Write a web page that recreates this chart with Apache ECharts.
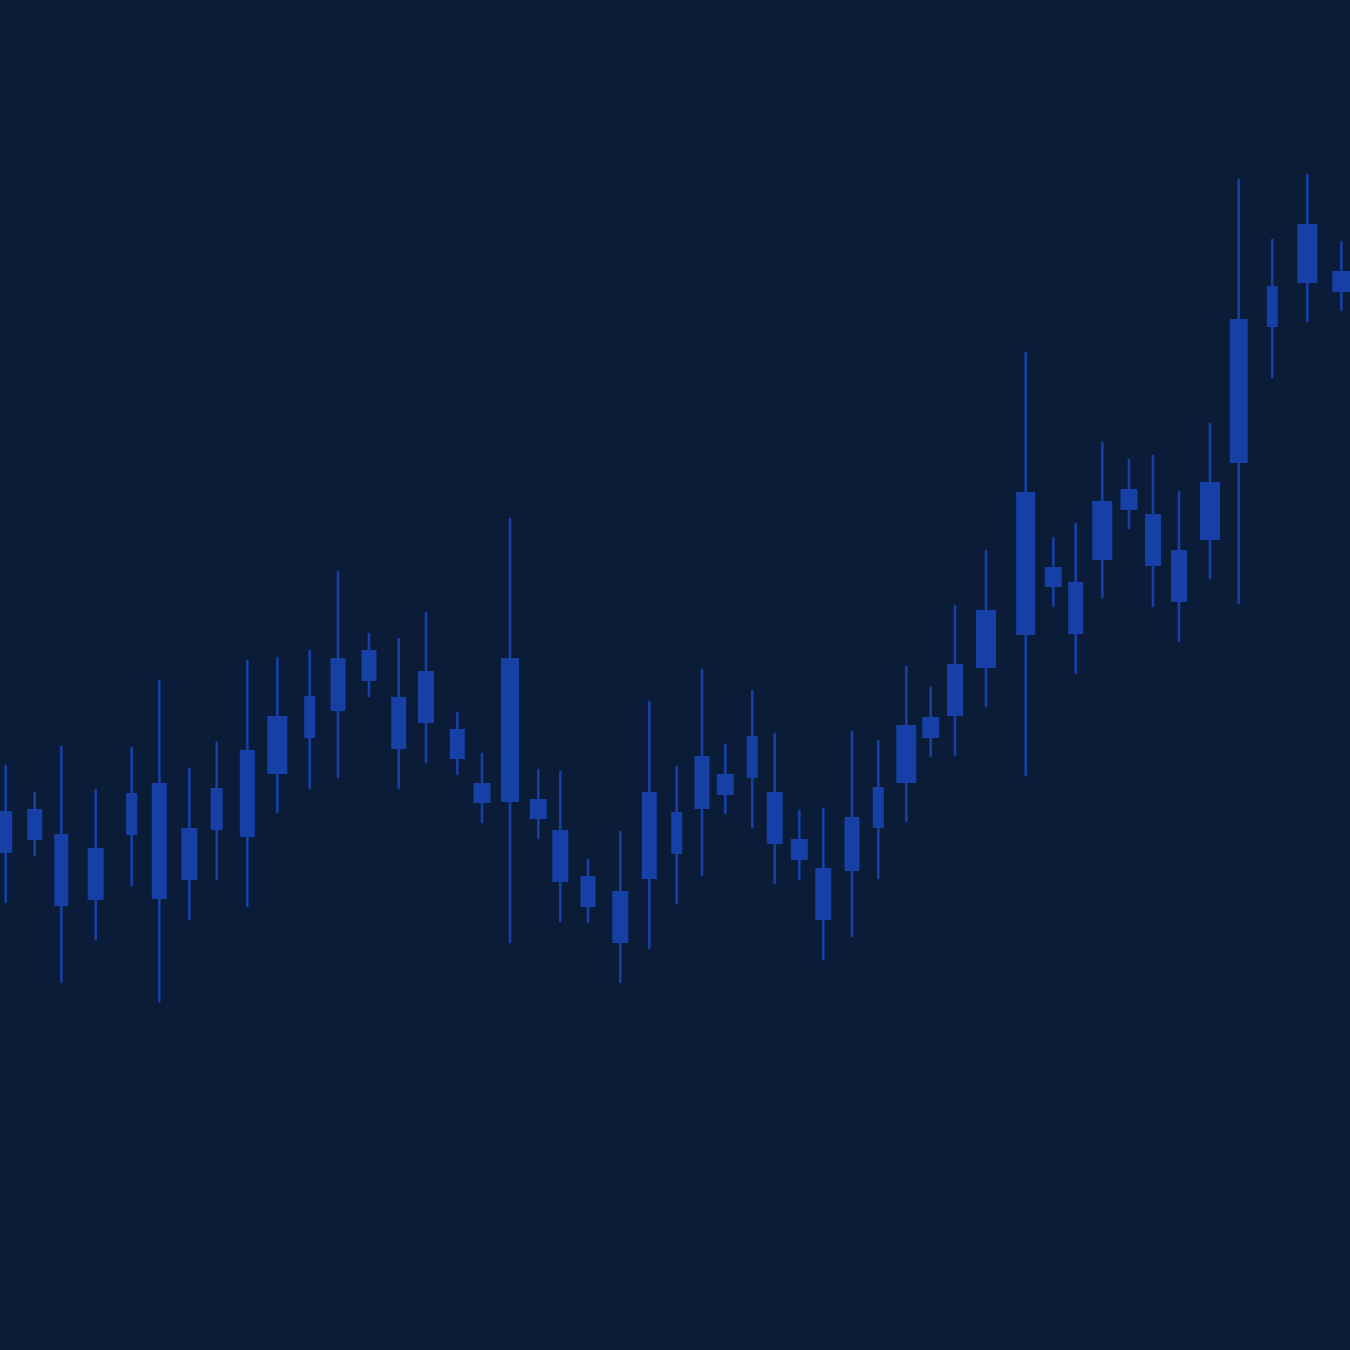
<!DOCTYPE html>
<html>
<head>
<meta charset="utf-8">
<script src="https://cdn.jsdelivr.net/npm/echarts@6/dist/echarts.min.js"></script>
<style>
  html, body { margin: 0; padding: 0; background: #0a1c38; }
  #chart { width: 1350px; height: 1350px; }
</style>
</head>
<body>
<div id="chart"></div>
<script>
// Session positions on the time axis (irregular spacing)
const times = [5.7, 34.7, 61.3, 95.7, 131.7, 159.3, 189.3, 216.7, 247.3, 277.3,
  309.7, 338, 369, 398.7, 426, 457.3, 482, 510, 538.3, 560.3,
  588, 620.3, 649.3, 676.7, 702, 725.3, 752.3, 774.7, 799.3, 823.3,
  852, 878.3, 906.3, 930.7, 955, 986, 1025.7, 1053.3, 1075.7, 1102.3,
  1129, 1153, 1179, 1210, 1238.7, 1272.3, 1307.3, 1341.3];

const opens  = [49.7, 54.1, 51.6, 50.2, 51.5, 45.1, 52.2, 52.0, 51.3, 57.6,
  61.2, 63.9, 66.9, 65.3, 62.7, 62.1, 56.7, 54.8, 55.1, 52.0,
  47.4, 45.9, 47.1, 53.8, 54.1, 57.6, 57.2, 55.8, 51.1, 48.2,
  47.9, 52.2, 56.7, 61.2, 63.4, 68.2, 71.5, 78.3, 76.8, 79.0,
  84.0, 83.6, 80.0, 81.0, 88.7, 102.3, 106.7, 107.9];
const closes = [53.9, 51.0, 44.4, 45.0, 55.7, 56.7, 47.0, 56.2, 60.0, 63.4,
  65.4, 69.2, 70.0, 60.1, 67.9, 59.1, 54.7, 69.2, 53.1, 46.8,
  44.3, 40.7, 55.8, 49.6, 59.4, 55.5, 61.4, 50.6, 49.0, 43.0,
  53.3, 56.3, 62.5, 63.3, 68.6, 74.0, 85.8, 76.3, 71.6, 84.9,
  86.1, 78.4, 74.8, 86.8, 103.1, 106.4, 112.6, 105.8];
const lows   = [44.8, 49.5, 36.8, 41.1, 46.5, 34.9, 43.1, 47.1, 44.4, 53.8,
  56.2, 57.3, 65.4, 56.2, 58.8, 57.6, 52.8, 40.8, 51.2, 42.9,
  42.8, 36.8, 40.2, 44.7, 47.5, 53.7, 52.3, 46.7, 47.1, 39.1,
  41.4, 47.2, 52.9, 59.4, 59.5, 64.4, 57.5, 74.4, 67.7, 75.3,
  82.2, 74.4, 70.9, 77.2, 74.7, 97.3, 102.9, 104.0];
const highs  = [58.4, 55.7, 60.3, 56.0, 60.2, 66.9, 58.1, 60.7, 68.9, 69.2,
  69.9, 77.8, 71.6, 71.1, 73.7, 63.7, 59.6, 83.1, 58.0, 57.8,
  49.0, 51.8, 64.8, 58.3, 68.0, 60.5, 65.9, 61.6, 53.9, 54.1,
  61.8, 60.9, 68.3, 66.2, 74.4, 79.9, 99.7, 81.2, 82.6, 90.7,
  89.0, 89.4, 85.8, 92.6, 117.0, 111.0, 117.5, 110.8];
// Volume per session (equivolume: body width encodes volume)
const volumes = [1300, 1500, 1400, 1600, 1100, 1500, 1600, 1200, 1500, 2000,
  1100, 1500, 1500, 1500, 1600, 1500, 1700, 1800, 1700, 1600,
  1500, 1600, 1500, 1100, 1500, 1700, 1100, 1600, 1700, 1600,
  1500, 1100, 2000, 1700, 1600, 2000, 1900, 1700, 1500, 2000,
  1700, 1600, 1600, 2000, 1800, 1100, 2000, 1800];

const VOL_TO_PX = 0.01;
const CANDLE_COLOR = '#1640a6';

const data = times.map((t, i) => [t, opens[i], closes[i], lows[i], highs[i], volumes[i]]);

const chart = echarts.init(document.getElementById('chart'), null, { renderer: 'canvas' });
chart.setOption({
  backgroundColor: '#0a1c38',
  animation: false,
  grid: { left: 0, right: 0, top: 0, bottom: 0 },
  xAxis: { type: 'value', min: 0, max: 1350, show: false },
  yAxis: { type: 'value', min: 0, max: 135, show: false },
  series: [{
    type: 'custom',
    data: data,
    encode: { x: 0, y: [1, 2, 3, 4] },
    clip: false,
    renderItem: function (params, api) {
      const x = api.value(0);
      const o = api.value(1), c = api.value(2), l = api.value(3), h = api.value(4);
      const w = api.value(5) * VOL_TO_PX;
      const pH = api.coord([x, h]);
      const pL = api.coord([x, l]);
      const pT = api.coord([x, Math.max(o, c)]);
      const pB = api.coord([x, Math.min(o, c)]);
      return {
        type: 'group',
        children: [
          { type: 'line', shape: { x1: pH[0], y1: pH[1], x2: pL[0], y2: pL[1] },
            style: { stroke: CANDLE_COLOR, lineWidth: 2.6, lineCap: 'round' } },
          { type: 'rect', shape: { x: pT[0] - w / 2, y: pT[1], width: w, height: pB[1] - pT[1] },
            style: { fill: CANDLE_COLOR } }
        ]
      };
    }
  }]
});
</script>
</body>
</html>
